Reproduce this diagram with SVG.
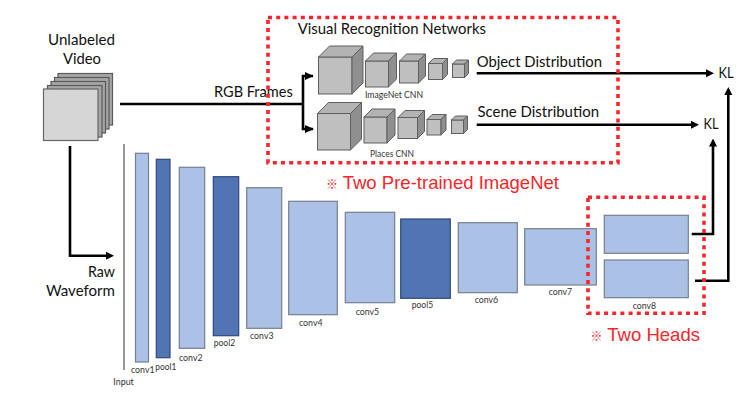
<svg xmlns="http://www.w3.org/2000/svg" width="749" height="400" viewBox="0 0 749 400">
<style>
text{font-family:"Lato","Carlito","Liberation Sans",sans-serif;fill:#111}
.l{font-size:15px}
.s{font-size:8.5px;fill:#333}
.r{font-family:"Liberation Sans","Noto Sans CJK SC",sans-serif;font-size:19px;fill:#f8262c}
.k{font-family:"Noto Sans CJK SC","Liberation Sans",sans-serif;font-size:12px;font-weight:700;fill:#f8262c}
.a{fill:#acc1e6;stroke:#75808f;stroke-width:1.2}
.d{fill:#5174b2;stroke:#2f4a7c;stroke-width:1.2}
.f{fill:#bfbfbf;stroke:#5f5f5f;stroke-width:1}
.t{fill:#b3b3b3;stroke:#5f5f5f;stroke-width:1}
.e{fill:#8f8f8f;stroke:#5f5f5f;stroke-width:1}
.v{fill:#a6a6a6;stroke:#5a5a5a;stroke-width:1.2}
.w{fill:#d6d6d6;stroke:#666;stroke-width:1.2}
.c{fill:none;stroke:#000;stroke-width:2.6}
.x{fill:none;stroke:#f8262c;stroke-width:3.6;stroke-dasharray:4 4.2}
</style>
<defs>
<marker id="h" markerUnits="userSpaceOnUse" markerWidth="8" markerHeight="9" refX="0.5" refY="4.5" orient="auto"><path d="M0 0.5L8 4.5L0 8.5Z" fill="#000"/></marker>
</defs>
<rect width="749" height="400" fill="#fff"/>
<g id="video">
<rect class="v" x="58" y="73.500" width="54.500" height="51.500"/>
<rect class="v" x="54.500" y="77.500" width="54.500" height="51.500"/>
<rect class="v" x="51" y="81.500" width="54.500" height="51.500"/>
<rect class="v" x="47.500" y="85.500" width="54.500" height="51.500"/>
<rect class="w" x="43.500" y="89" width="54.500" height="51.500"/>
<text class="l" x="48" y="45" textLength="67" lengthAdjust="spacingAndGlyphs">Unlabeled</text>
<text class="l" x="63" y="64" textLength="38" lengthAdjust="spacingAndGlyphs">Video</text>
</g>
<g id="connectors">
<path class="c" d="M120 104H303"/>
<path class="c" d="M313 76H303V129H313"/>
<path d="M305 72L313.500 76L305 80Z M305 125L314 129L305 133Z" fill="#000"/>
<path class="c" d="M70 146V255.700H106.500" marker-end="url(#h)"/>
<path class="c" d="M476.700 73.300H706.500" marker-end="url(#h)"/>
<path class="c" d="M476.700 124.700H691.500" marker-end="url(#h)"/>
<path class="c" d="M691.700 234H713V146" marker-end="url(#h)"/>
<path class="c" d="M695 280.700H728.300V94.500" marker-end="url(#h)"/>
</g>
<g id="imagenet-cnn">
<rect class="f" x="318.500" y="57" width="33.500" height="37"/><polygon class="t" points="318.500,57 329.500,46 363,46 352,57"/><polygon class="e" points="352,57 363,46 363,83 352,94"/>
<rect class="f" x="365.500" y="61" width="23" height="26"/><polygon class="t" points="365.500,61 373.500,53 396.500,53 388.500,61"/><polygon class="e" points="388.500,61 396.500,53 396.500,79 388.500,87"/>
<rect class="f" x="399.500" y="61" width="19" height="22"/><polygon class="t" points="399.500,61 406.500,54 425.500,54 418.500,61"/><polygon class="e" points="418.500,61 425.500,54 425.500,76 418.500,83"/>
<rect class="f" x="428.500" y="63.500" width="14" height="16"/><polygon class="t" points="428.500,63.500 433.500,58.500 447.500,58.500 442.500,63.500"/><polygon class="e" points="442.500,63.500 447.500,58.500 447.500,74.500 442.500,79.500"/>
<rect class="f" x="452.500" y="64" width="12" height="13.500"/><polygon class="t" points="452.500,64 456.500,60 468.500,60 464.500,64"/><polygon class="e" points="464.500,64 468.500,60 468.500,73.500 464.500,77.500"/>
<text class="s" x="365" y="98" textLength="58" lengthAdjust="spacingAndGlyphs">ImageNet CNN</text>
</g>
<g id="places-cnn">
<rect class="f" x="317.500" y="113.500" width="33" height="36.500"/><polygon class="t" points="317.500,113.500 328.500,102.500 361.500,102.500 350.500,113.500"/><polygon class="e" points="350.500,113.500 361.500,102.500 361.500,139 350.500,150"/>
<rect class="f" x="364" y="117" width="23" height="26"/><polygon class="t" points="364,117 372,109 395,109 387,117"/><polygon class="e" points="387,117 395,109 395,135 387,143"/>
<rect class="f" x="398" y="117.500" width="19.500" height="21"/><polygon class="t" points="398,117.500 405,110.500 424.500,110.500 417.500,117.500"/><polygon class="e" points="417.500,117.500 424.500,110.500 424.500,131.500 417.500,138.500"/>
<rect class="f" x="427" y="119.500" width="14" height="15.500"/><polygon class="t" points="427,119.500 432,114.500 446,114.500 441,119.500"/><polygon class="e" points="441,119.500 446,114.500 446,130 441,135"/>
<rect class="f" x="451.500" y="120" width="12" height="13.500"/><polygon class="t" points="451.500,120 455.500,116 467.500,116 463.500,120"/><polygon class="e" points="463.500,120 467.500,116 467.500,129.500 463.500,133.500"/>
<text class="s" x="370" y="157" textLength="44" lengthAdjust="spacingAndGlyphs">Places CNN</text>
</g>
<g id="labels">
<text class="l" x="214" y="96.700" textLength="78.700" lengthAdjust="spacingAndGlyphs">RGB Frames</text>
<text class="l" x="297.700" y="34" textLength="188.300" lengthAdjust="spacingAndGlyphs">Visual Recognition Networks</text>
<text class="l" x="476.700" y="66.700" textLength="125.300" lengthAdjust="spacingAndGlyphs">Object Distribution</text>
<text class="l" x="477.500" y="117" textLength="121.500" lengthAdjust="spacingAndGlyphs">Scene Distribution</text>
<text class="l" x="718.500" y="78" textLength="15" lengthAdjust="spacingAndGlyphs">KL</text>
<text class="l" x="703.500" y="128.500" textLength="15" lengthAdjust="spacingAndGlyphs">KL</text>
<text class="l" x="88" y="276.700" textLength="27" lengthAdjust="spacingAndGlyphs">Raw</text>
<text class="l" x="46" y="296" textLength="69" lengthAdjust="spacingAndGlyphs">Waveform</text>
</g>
<g id="input"><path d="M124 144V370" fill="none" stroke="#808080" stroke-width="1.600"/><text class="s" x="113.300" y="385" textLength="20.500" lengthAdjust="spacingAndGlyphs">Input</text></g>
<g id="conv1"><rect class="a" x="135.500" y="153.300" width="13" height="208.700"/><text class="s" x="131" y="372.700" textLength="23.500" lengthAdjust="spacingAndGlyphs">conv1</text></g>
<g id="pool1"><rect class="d" x="156.300" y="159.300" width="13.700" height="198.400"/><text class="s" x="155.300" y="370" textLength="21" lengthAdjust="spacingAndGlyphs">pool1</text></g>
<g id="conv2"><rect class="a" x="179.300" y="167.300" width="25.400" height="181"/><text class="s" x="179" y="360.700" textLength="23.500" lengthAdjust="spacingAndGlyphs">conv2</text></g>
<g id="pool2"><rect class="d" x="213.300" y="176.700" width="25.400" height="159"/><text class="s" x="213.700" y="345.700" textLength="21.500" lengthAdjust="spacingAndGlyphs">pool2</text></g>
<g id="conv3"><rect class="a" x="246.700" y="187.700" width="35" height="140.600"/><text class="s" x="250" y="339.300" textLength="23.500" lengthAdjust="spacingAndGlyphs">conv3</text></g>
<g id="conv4"><rect class="a" x="288.700" y="201.300" width="48.600" height="113.400"/><text class="s" x="299" y="325.700" textLength="23.500" lengthAdjust="spacingAndGlyphs">conv4</text></g>
<g id="conv5"><rect class="a" x="345.300" y="212.300" width="49.400" height="90.400"/><text class="s" x="355.700" y="315" textLength="23.500" lengthAdjust="spacingAndGlyphs">conv5</text></g>
<g id="pool5"><rect class="d" x="400.700" y="219" width="49.600" height="79.300"/><text class="s" x="411.700" y="308" textLength="21.500" lengthAdjust="spacingAndGlyphs">pool5</text></g>
<g id="conv6"><rect class="a" x="458.300" y="222.700" width="59" height="70"/><text class="s" x="474.700" y="302.700" textLength="23.500" lengthAdjust="spacingAndGlyphs">conv6</text></g>
<g id="conv7"><rect class="a" x="524.700" y="228.700" width="71.600" height="56.300"/><text class="s" x="548.700" y="294.700" textLength="23.500" lengthAdjust="spacingAndGlyphs">conv7</text></g>
<g id="conv8"><rect class="a" x="604.300" y="215.300" width="84" height="38"/><rect class="a" x="604.300" y="260" width="84" height="37.700"/><text class="s" x="632.700" y="308.700" textLength="23.500" lengthAdjust="spacingAndGlyphs">conv8</text></g>
<g id="highlights">
<rect class="x" x="268" y="17.500" width="350" height="145.200"/>
<rect class="x" x="588" y="197.300" width="116" height="116"/>
<text class="k" x="326" y="189.300">※</text>
<text class="r" x="342.700" y="189.300" textLength="216.300" lengthAdjust="spacingAndGlyphs">Two Pre-trained ImageNet</text>
<text class="k" x="590.500" y="340.700">※</text>
<text class="r" x="607.300" y="340.700" textLength="92.700" lengthAdjust="spacingAndGlyphs">Two Heads</text>
</g>
</svg>
